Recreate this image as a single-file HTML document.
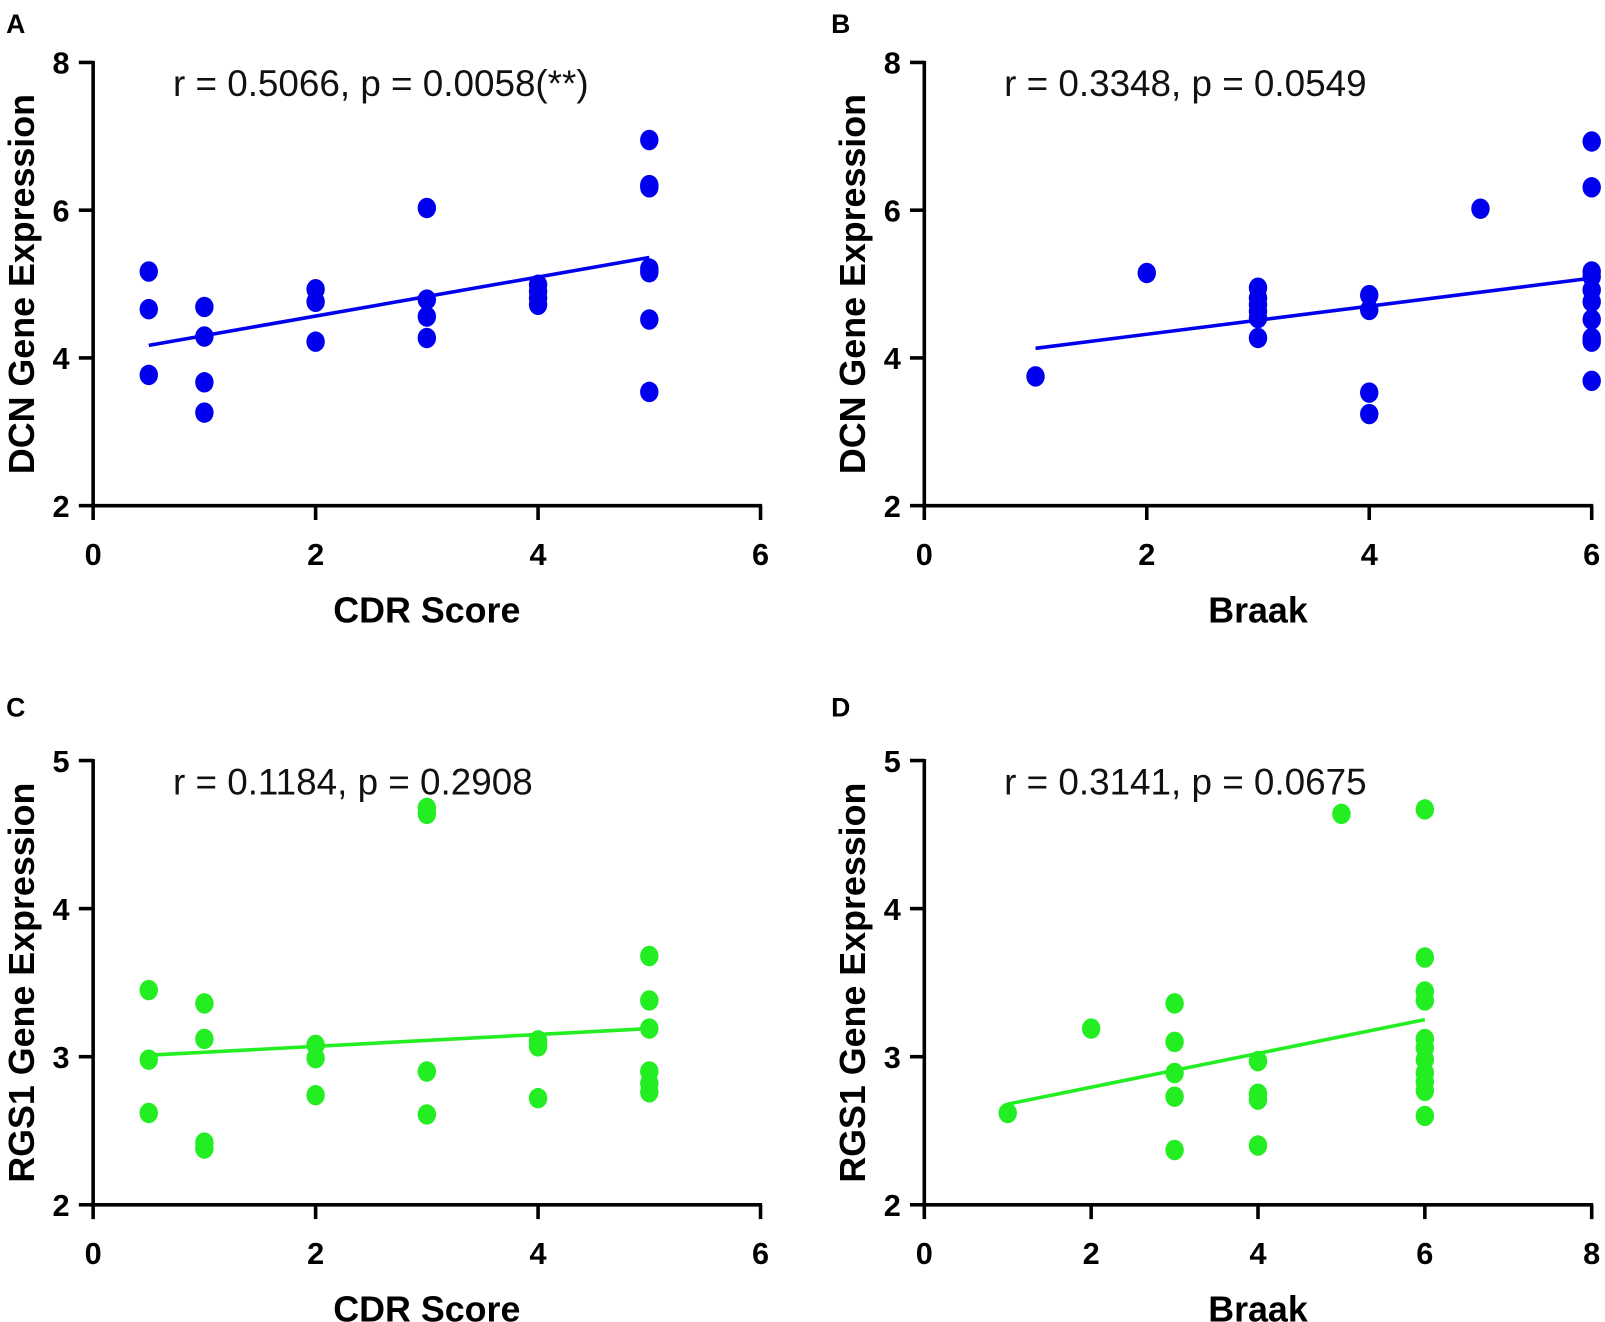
<!DOCTYPE html>
<html><head><meta charset="utf-8"><style>
html,body{margin:0;padding:0;background:#fff;}
svg{display:block;font-family:"Liberation Sans",Arial,sans-serif;}
</style></head><body>
<svg width="1605" height="1322" viewBox="0 0 1605 1322"><g id="fig" transform="scale(1.0236)"></g></svg>
<script>
// Panel A: DCN vs CDR
const aX = [0.5,0.5,0.5,1,1,1,1,2,2,2,3,3,3,3,4,4,4,4,5,5,5,5,5,5,5];
const aY = [5.17,4.66,3.77,4.69,4.29,3.67,3.26,4.93,4.76,4.22,6.03,4.79,4.56,4.27,4.99,4.90,4.81,4.72,6.95,6.34,6.31,5.21,5.16,4.52,3.54];
const aFit = [[0.5,4.17],[5,5.36]];
// Panel B: DCN vs Braak
const bX = [1,2,3,3,3,3,3,3,4,4,4,4,5,6,6,6,6,6,6,6,6,6,6];
const bY = [3.75,5.15,4.95,4.81,4.72,4.63,4.54,4.27,4.85,4.65,3.53,3.24,6.02,6.93,6.31,5.17,5.10,4.92,4.76,4.52,4.27,4.22,3.69];
const bFit = [[1,4.13],[6,5.08]];
// Panel C: RGS1 vs CDR
const cX = [0.5,0.5,0.5,1,1,1,1,2,2,2,3,3,3,3,4,4,4,5,5,5,5,5,5];
const cY = [3.45,2.98,2.62,3.36,3.12,2.42,2.38,3.08,2.99,2.74,4.68,4.64,2.90,2.61,3.11,3.07,2.72,3.68,3.38,3.19,2.90,2.82,2.76];
const cFit = [[0.5,3.01],[5,3.19]];
// Panel D: RGS1 vs Braak
const dX = [1,2,3,3,3,3,3,4,4,4,4,5,6,6,6,6,6,6,6,6,6,6,6];
const dY = [2.62,3.19,3.36,3.10,2.89,2.73,2.37,2.97,2.75,2.71,2.40,4.64,4.67,3.67,3.44,3.38,3.12,3.06,2.98,2.89,2.83,2.77,2.60];
const dFit = [[1,2.68],[6,3.25]];
const xTicksCDR = ["0","2","4","6"];
const xTicksBraakB = ["0","2","4","6"];
const xTicksBraakD = ["0","2","4","6","8"];
const yTicksDCN = ["2","4","6","8"];
const yTicksRGS = ["2","3","4","5"];

const NS="http://www.w3.org/2000/svg";
const svg=document.getElementById('fig');
function mk(tag,attrs,parent){const e=document.createElementNS(NS,tag);for(const k in attrs)e.setAttribute(k,attrs[k]);(parent||svg).appendChild(e);return e;}

function panel(o){
  const g=mk('g',{});
  
  
  const sx=v=>o.x0+(v-o.xmin)/(o.xmax-o.xmin)*(o.x1-o.x0);
  const sy=v=>o.y0-(v-o.ymin)/(o.ymax-o.ymin)*(o.y0-o.y1);
  const lt=mk('text',{x:o.lx,y:o.ly,'font-size':26,'font-weight':'bold',fill:'#000'},g);
  lt.textContent=o.letter;
  
  
  const ya=mk('line',{x1:o.x0,y1:o.y1-1.5,x2:o.x0,y2:o.y0+1.5,stroke:'#000','stroke-width':3.5},g);
  
  
  const xa=mk('line',{x1:o.x0-1.5,y1:o.y0,x2:o.x1+1.5,y2:o.y0,stroke:'#000','stroke-width':3.5},g);
  
  
  o.yt.forEach(t=>{const v=+t,y=sy(v);
    mk('line',{x1:o.x0-14,y1:y,x2:o.x0,y2:y,stroke:'#000','stroke-width':3.5},g);
    const tx=mk('text',{x:o.x0-23,y:y+11,'font-size':30,'font-weight':'bold','text-anchor':'end'},g);
    tx.textContent=t;
    
    
  });
  o.xt.forEach(t=>{const v=+t,x=sx(v);
    mk('line',{x1:x,y1:o.y0,x2:x,y2:o.y0+14,stroke:'#000','stroke-width':3.5},g);
    const tx=mk('text',{x:x,y:o.y0+58,'font-size':30,'font-weight':'bold','text-anchor':'middle'},g);
    tx.textContent=t;
    
    
  });
  const xtitle=mk('text',{x:(o.x0+o.x1)/2,y:o.y0+114,'font-size':35,'font-weight':'bold','text-anchor':'middle'},g);
  xtitle.textContent=o.xlabel;
  
  
  const cy=(o.y0+o.y1)/2;
  const ytitle=mk('text',{x:0,y:0,'font-size':35,'font-weight':'bold','text-anchor':'middle',transform:`translate(${o.x0-58},${cy}) rotate(-90)`},g);
  ytitle.textContent=o.ylabel;
  
  
  const ann=mk('text',{x:o.x0+78,y:o.y1+33,'font-size':36,fill:'#111'},g);
  ann.textContent=o.ann;
  
  
  o.xs.forEach((xv,i)=>{
    const c=mk('ellipse',{cx:sx(xv),cy:sy(o.ys[i]),rx:9,ry:10,fill:o.color},g);
    
    
  });
  const fl=mk('line',{x1:sx(o.fit[0][0]),y1:sy(o.fit[0][1]),x2:sx(o.fit[1][0]),y2:sy(o.fit[1][1]),stroke:o.color,'stroke-width':3.5},g);
  
  
}
const blue='#0000ee', green='#22ee22';
panel({name:'panel-a',letter:'A',lx:6,ly:32,x0:91,x1:743,xmin:0,xmax:6,y0:494,y1:61,ymin:2,ymax:8,xt:xTicksCDR,yt:yTicksDCN,xs:aX,ys:aY,fit:aFit,color:blue,xlabel:'CDR Score',ylabel:'DCN Gene Expression',ann:'r = 0.5066, p = 0.0058(**)'});
panel({name:'panel-b',letter:'B',lx:812,ly:32,x0:903,x1:1555,xmin:0,xmax:6,y0:494,y1:61,ymin:2,ymax:8,xt:xTicksBraakB,yt:yTicksDCN,xs:bX,ys:bY,fit:bFit,color:blue,xlabel:'Braak',ylabel:'DCN Gene Expression',ann:'r = 0.3348, p = 0.0549'});
panel({name:'panel-c',letter:'C',lx:6,ly:700,x0:91,x1:743,xmin:0,xmax:6,y0:1177,y1:743,ymin:2,ymax:5,xt:xTicksCDR,yt:yTicksRGS,xs:cX,ys:cY,fit:cFit,color:green,xlabel:'CDR Score',ylabel:'RGS1 Gene Expression',ann:'r = 0.1184, p = 0.2908'});
panel({name:'panel-d',letter:'D',lx:812,ly:700,x0:903,x1:1555,xmin:0,xmax:8,y0:1177,y1:743,ymin:2,ymax:5,xt:xTicksBraakD,yt:yTicksRGS,xs:dX,ys:dY,fit:dFit,color:green,xlabel:'Braak',ylabel:'RGS1 Gene Expression',ann:'r = 0.3141, p = 0.0675'});
</script>
</body></html>
